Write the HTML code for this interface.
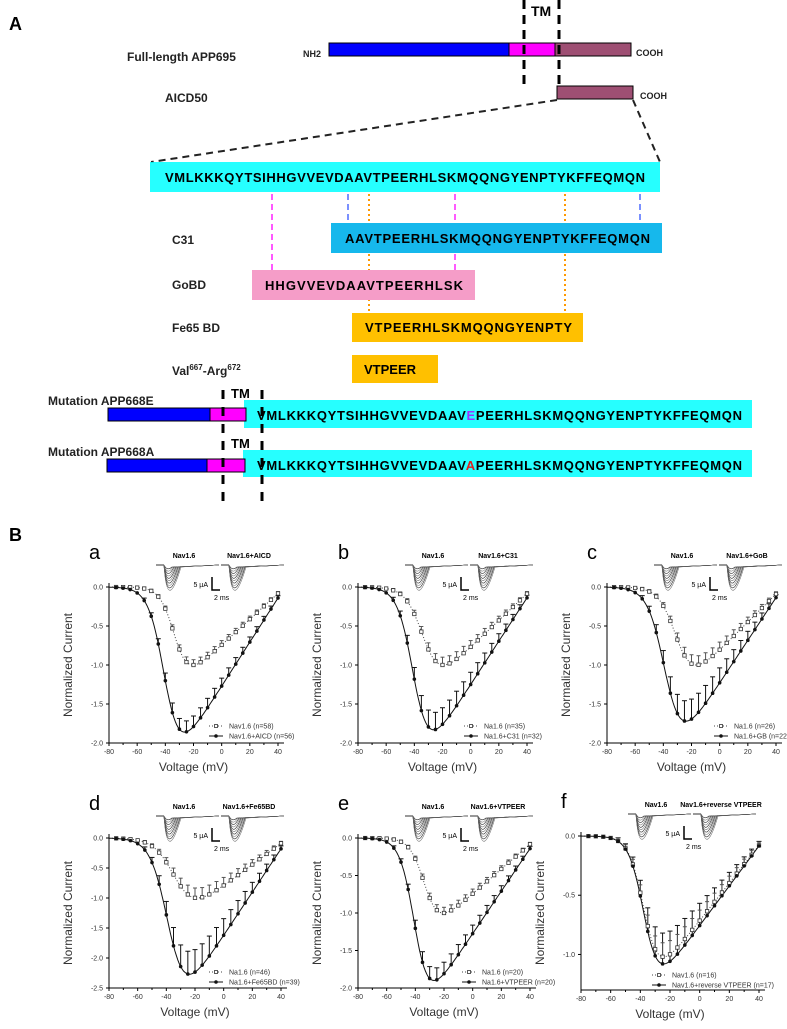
<!DOCTYPE html>
<html><head><meta charset="utf-8"><style>
body{margin:0;background:#fff}
svg{display:block;font-family:"Liberation Sans",Arial,sans-serif}
.b{font-weight:bold}
</style></head><body>
<svg id="s" width="787" height="1029" viewBox="0 0 787 1029" xmlns="http://www.w3.org/2000/svg">
<rect width="787" height="1029" fill="#fff"/>
<text x="9" y="30" font-size="18" class="b">A</text>
<text x="127" y="61" font-size="12" class="b" fill="#222">Full-length APP695</text>
<text x="165" y="102" font-size="12" class="b" fill="#222">AICD50</text>
<text x="303" y="57" font-size="9" class="b" fill="#222">NH2</text>
<rect x="329" y="43" width="180" height="13" fill="#0000ff" stroke="#000"/>
<rect x="509" y="43" width="46" height="13" fill="#ff00ff" stroke="#000"/>
<rect x="555" y="43" width="76" height="13" fill="#9e4f73" stroke="#000"/>
<text x="636" y="56" font-size="9" class="b" fill="#222">COOH</text>
<rect x="557" y="86" width="76" height="13" fill="#9e4f73" stroke="#000"/>
<text x="640" y="99" font-size="9" class="b" fill="#222">COOH</text>
<g stroke="#000" stroke-width="3" stroke-dasharray="9,6"><line x1="524" y1="0" x2="524" y2="86"/><line x1="559" y1="0" x2="559" y2="86"/></g>
<text x="531" y="16" font-size="14" class="b">TM</text>
<g stroke="#222" stroke-width="2" stroke-dasharray="7,5"><line x1="557" y1="100" x2="151" y2="162"/><line x1="633" y1="100" x2="660" y2="162"/></g>
<rect x="150" y="162" width="510" height="30" fill="#00ffff" opacity=".85"/>
<text x="165" y="182" font-size="13" class="b" textLength="480">VMLKKKQYTSIHHGVVEVDAAVTPEERHLSKMQQNGYENPTYKFFEQMQN</text>
<g stroke-width="1.3" stroke-dasharray="6,4">
<line x1="272" y1="194" x2="272" y2="270" stroke="#ff00ff"/>
<line x1="455" y1="194" x2="455" y2="270" stroke="#ff00ff"/>
<line x1="348" y1="194" x2="348" y2="222" stroke="#3355ff"/>
<line x1="640" y1="194" x2="640" y2="222" stroke="#3355ff"/>
</g>
<g stroke="#ff9900" stroke-width="2" stroke-dasharray="2,3">
<line x1="369" y1="194" x2="369" y2="313"/><line x1="565" y1="194" x2="565" y2="313"/>
</g>
<text x="172" y="244" font-size="12" class="b" fill="#222">C31</text>
<rect x="331" y="223" width="331" height="30" fill="#16b8ec"/>
<text x="345" y="243" font-size="13" class="b" textLength="305">AAVTPEERHLSKMQQNGYENPTYKFFEQMQN</text>
<text x="172" y="289" font-size="12" class="b" fill="#222">GoBD</text>
<rect x="252" y="270" width="223" height="30" fill="#f59dc8"/>
<text x="265" y="290" font-size="13" class="b" textLength="198">HHGVVEVDAAVTPEERHLSK</text>
<text x="172" y="332" font-size="12" class="b" fill="#222">Fe65 BD</text>
<rect x="352" y="313" width="231" height="29" fill="#ffc000"/>
<text x="365" y="332" font-size="13" class="b" textLength="207">VTPEERHLSKMQQNGYENPTY</text>
<text x="172" y="375" font-size="12" class="b" fill="#222">Val<tspan font-size="8" dy="-5">667</tspan><tspan dy="5">-Arg</tspan><tspan font-size="8" dy="-5">672</tspan></text>
<rect x="352" y="355" width="86" height="28" fill="#ffc000"/>
<text x="364" y="374" font-size="13" class="b">VTPEER</text>
<text x="48" y="405" font-size="12" class="b" fill="#222">Mutation APP668E</text>
<rect x="244" y="400" width="508" height="28" fill="#00ffff" opacity=".85"/>
<rect x="108" y="408" width="102" height="13" fill="#0000ff" stroke="#000"/>
<rect x="210" y="408" width="36" height="13" fill="#ff00ff" stroke="#000"/>
<text x="257" y="420" font-size="13" class="b" textLength="485">VMLKKKQYTSIHHGVVEVDAAV<tspan fill="#9933ff">E</tspan>PEERHLSKMQQNGYENPTYKFFEQMQN</text>
<text x="48" y="456" font-size="12" class="b" fill="#222">Mutation APP668A</text>
<rect x="243" y="450" width="509" height="27" fill="#00ffff" opacity=".85"/>
<rect x="107" y="459" width="100" height="13" fill="#0000ff" stroke="#000"/>
<rect x="207" y="459" width="38" height="13" fill="#ff00ff" stroke="#000"/>
<text x="257" y="470" font-size="13" class="b" textLength="485">VMLKKKQYTSIHHGVVEVDAAV<tspan fill="#e02020">A</tspan>PEERHLSKMQQNGYENPTYKFFEQMQN</text>
<g stroke="#000" stroke-width="3" stroke-dasharray="9,8"><line x1="223" y1="390" x2="223" y2="502"/><line x1="262" y1="390" x2="262" y2="502"/></g>
<text x="231" y="398" font-size="13" class="b">TM</text>
<text x="231" y="448" font-size="13" class="b">TM</text>
<text x="9" y="541" font-size="18" class="b">B</text>
<g id="plots"></g>
</svg>
<script>
var NS="http://www.w3.org/2000/svg",G=document.getElementById("plots");
function el(t,a,p,txt){var e=document.createElementNS(NS,t);for(var k in a)e.setAttribute(k,a[k]);if(txt!=null)e.textContent=txt;(p||G).appendChild(e);return e;}
function shape(V,vh,k){return (V-45)/(1+Math.exp((vh-V)/k));}
function curve(vh,k,peak){var m=0;for(var v=-80;v<=40;v+=1){m=Math.min(m,shape(v,vh,k));}
 return function(v){return shape(v,vh,k)/(-m)*peak;};}
var P=[
{L:"a",ax:109,top:587,bot:743,ymin:-2,ticks:[0,-0.5,-1,-1.5,-2],x40:278,c:[-33,5,1],t:[-40,5.5,1.86],leg:["Nav1.6 (n=58)","Nav1.6+AICD (n=56)"],lx:213,ly:726,n2:"Nav1.6+AICD",eb:0.06},
{L:"b",ax:358,top:587,bot:743,ymin:-2,ticks:[0,-0.5,-1,-1.5,-2],x40:527,c:[-33,6,1],t:[-40,5.5,1.83],leg:["Na1.6 (n=35)","Na1.6+C31 (n=32)"],lx:468,ly:726,n2:"Nav1.6+C31",eb:0.1},
{L:"c",ax:607,top:587,bot:743,ymin:-2,ticks:[0,-0.5,-1,-1.5,-2],x40:776,c:[-30,6,1],t:[-38,6,1.72],leg:["Na1.6 (n=26)","Na1.6+GB (n=22)"],lx:718,ly:726,n2:"Nav1.6+GoB",eb:0.12},
{L:"d",ax:109,top:838,bot:988,ymin:-2.5,ticks:[0,-0.5,-1,-1.5,-2,-2.5],x40:281,c:[-33,7,1],t:[-38,6,2.27],leg:["Na1.6 (n=46)","Na1.6+Fe65BD (n=39)"],lx:213,ly:972,n2:"Nav1.6+Fe65BD",eb:0.18},
{L:"e",ax:358,top:838,bot:988,ymin:-2,ticks:[0,-0.5,-1,-1.5,-2],x40:530,c:[-33,5,1],t:[-40,5,1.9],leg:["Na1.6 (n=20)","Na1.6+VTPEER (n=20)"],lx:466,ly:972,n2:"Nav1.6+VTPEER",eb:0.07},
{L:"f",ax:581,top:836,bot:990,ymin:-1.3,ticks:[0,-0.5,-1],x40:759,c:[-37,5,1.02],t:[-37,5,1.08],leg:["Nav1.6 (n=16)","Nav1.6+reverse  VTPEER (n=17)"],lx:656,ly:975,n2:"Nav1.6+reverse VTPEER",eb:0.12}
];
P.forEach(function(p){
 var sy=(p.bot-p.top)/(-p.ymin),sx=(p.x40-p.ax)/120;
 var X=function(v){return p.ax+(v+80)*sx},Y=function(i){return p.top-i*sy};
 var g=el("g",{});
 el("text",{x:p.ax-20,y:p.top-28,"font-size":20},g,p.L);
 el("line",{x1:p.ax,y1:p.top-4,x2:p.ax,y2:p.bot,stroke:"#000","stroke-width":1},g);
 el("line",{x1:p.ax,y1:p.bot,x2:p.x40+6,y2:p.bot,stroke:"#000","stroke-width":1},g);
 p.ticks.forEach(function(t){var y=Y(t);el("line",{x1:p.ax-3,y1:y,x2:p.ax,y2:y,stroke:"#000"},g);
  el("text",{x:p.ax-6,y:y+2.5,"font-size":7,"text-anchor":"end",fill:"#333"},g,t.toFixed(1));});
 for(var v=-80;v<=40;v+=10){var x=X(v);el("line",{x1:x,y1:p.bot,x2:x,y2:p.bot+(v%20==0?3:2),stroke:"#000"},g);
  if(v%20==0)el("text",{x:x,y:p.bot+11,"font-size":7,"text-anchor":"middle",fill:"#333"},g,String(v));}
 el("text",{x:(p.ax+p.x40)/2,y:p.bot+28,"font-size":12,"text-anchor":"middle",fill:"#333"},g,"Voltage (mV)");
 var yc=(p.top+p.bot)/2;
 el("text",{x:p.ax-37,y:yc,"font-size":12,"text-anchor":"middle",fill:"#333",transform:"rotate(-90 "+(p.ax-37)+" "+yc+")"},g,"Normalized Current");
 var fc=curve(p.c[0],p.c[1],p.c[2]),ft=curve(p.t[0],p.t[1],p.t[2]);
 var dc="",dt="";
 for(var v=-80;v<=40;v+=1){dc+=(v==-80?"M":"L")+X(v).toFixed(1)+","+Y(fc(v)).toFixed(1);dt+=(v==-80?"M":"L")+X(v).toFixed(1)+","+Y(ft(v)).toFixed(1);}
 el("path",{d:dc,fill:"none",stroke:"#444","stroke-width":1,"stroke-dasharray":"1,2"},g);
 el("path",{d:dt,fill:"none",stroke:"#111","stroke-width":1},g);
 for(var v=-75;v<=40;v+=5){
  var x=X(v),yc2=Y(fc(v)),yt=Y(ft(v)),e=p.eb*(-ft(v))/p.t[2]*2;
  if(v>-60){var ye=Y(ft(v)+e+0.02);el("line",{x1:x,y1:yt,x2:x,y2:ye,stroke:"#111"},g);el("line",{x1:x-2.5,y1:ye,x2:x+2.5,y2:ye,stroke:"#111"},g);
   var ec=p.eb*0.4*(-fc(v))*2;var ye2=Y(fc(v)+ec+0.02);el("line",{x1:x,y1:yc2,x2:x,y2:ye2,stroke:"#555"},g);el("line",{x1:x-2,y1:ye2,x2:x+2,y2:ye2,stroke:"#555"},g);}
  el("rect",{x:x-1.7,y:yc2-1.7,width:3.4,height:3.4,fill:"#fff",stroke:"#333","stroke-width":0.8},g);
  el("circle",{cx:x,cy:yt,r:1.8,fill:"#111"},g);
 }
 // legend
 el("line",{x1:p.lx-4,y1:p.ly,x2:p.lx+10,y2:p.ly,stroke:"#444","stroke-dasharray":"1,2"},g);
 el("rect",{x:p.lx+1.5,y:p.ly-1.5,width:3,height:3,fill:"#fff",stroke:"#333","stroke-width":.8},g);
 el("text",{x:p.lx+16,y:p.ly+2.5,"font-size":7,fill:"#333"},g,p.leg[0]);
 el("line",{x1:p.lx-4,y1:p.ly+10,x2:p.lx+10,y2:p.ly+10,stroke:"#111"},g);
 el("circle",{cx:p.lx+3,cy:p.ly+10,r:1.8,fill:"#111"},g);
 el("text",{x:p.lx+16,y:p.ly+12.5,"font-size":7,fill:"#333"},g,p.leg[1]);
 // insets
 var ix=p.ax+55,iy=p.top-22;
 el("text",{x:ix+20,y:iy-7,"font-size":7,"font-weight":"bold","text-anchor":"middle"},g,"Nav1.6");
 el("text",{x:ix+85,y:iy-7,"font-size":7,"font-weight":"bold","text-anchor":"middle"},g,p.n2);
 [ix,ix+65].forEach(function(bx){
  el("line",{x1:bx-8,y1:iy,x2:bx,y2:iy,stroke:"#333"},g);
  for(var i=0;i<10;i++){var d=4+i*3;el("path",{d:"M"+bx+","+iy+" Q"+(bx+3)+","+(iy+d*1.6)+" "+(bx+8+i)+","+(iy+2)+" L"+(bx+55)+","+iy,fill:"none",stroke:i%2?"#777":"#222","stroke-width":0.6},g);}
 });
 el("path",{d:"M"+(ix+48)+","+(iy+12)+" V"+(iy+25)+" H"+(ix+56),fill:"none",stroke:"#000","stroke-width":1.5},g);
 el("text",{x:ix+44,y:iy+22,"font-size":7,"text-anchor":"end"},g,"5 µA");
 el("text",{x:ix+50,y:iy+35,"font-size":7},g,"2 ms");
});
</script>
</body></html>
